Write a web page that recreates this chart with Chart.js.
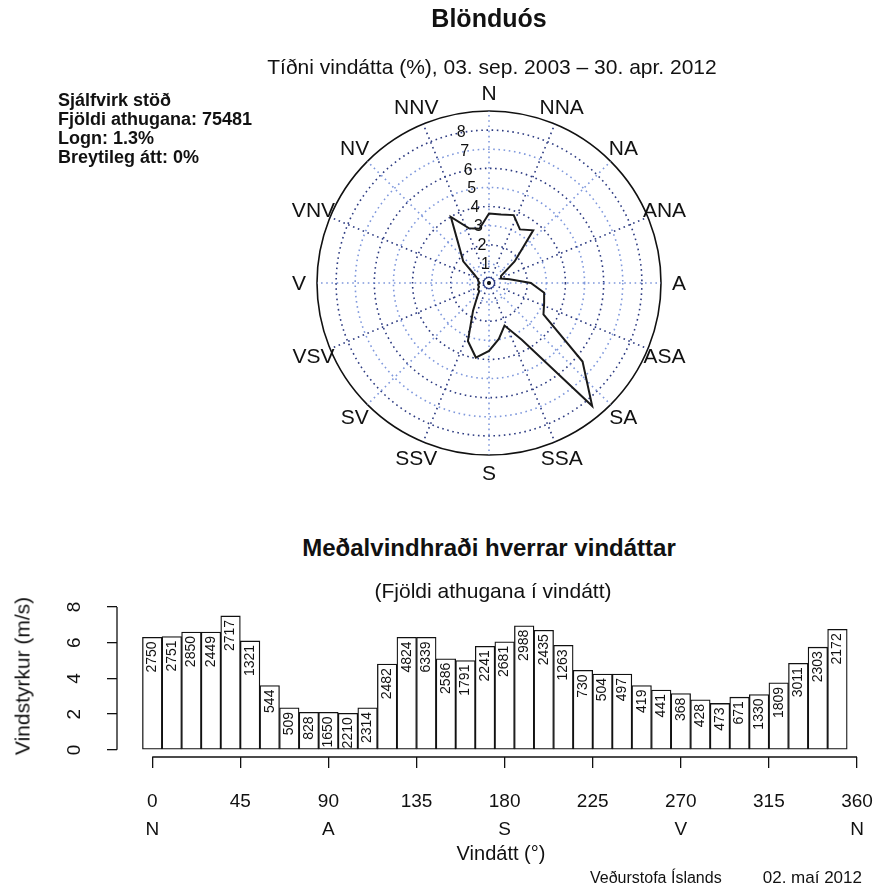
<!DOCTYPE html>
<html lang="is">
<head>
<meta charset="UTF-8">
<title>Blönduós – vindrós</title>
<script src="https://cdn.jsdelivr.net/npm/chart.js"></script>
<style>
  body { margin: 0; background: #fff; font-family: "Liberation Sans", Arial, sans-serif; color: #111; }
  #page { position: relative; width: 878px; height: 888px; overflow: hidden; background: #fff; }
  .txt { position: absolute; white-space: nowrap; line-height: 1; }
  .c { transform: translate(-50%, -50%); }
  #rose { position: absolute; left: 0; top: 0; }
  #bars { position: absolute; left: 0; top: 595px; }
</style>
</head>
<body>
<div id="page">
  <canvas id="rose" width="878" height="500"></canvas>
  <canvas id="bars" width="878" height="250"></canvas>

  <div class="txt c" style="left:489px; top:18px; font-size:25px; font-weight:bold;">Blönduós</div>
  <div class="txt c" style="left:492px; top:66px; font-size:21px;">Tíðni vindátta (%), 03. sep. 2003 – 30. apr. 2012</div>
  <div class="txt" style="left:58px; top:91px; font-size:18px; font-weight:bold; line-height:19px;">
    Sjálfvirk stöð<br>Fjöldi athugana: 75481<br>Logn: 1.3%<br>Breytileg átt: 0%
  </div>

  <div class="txt c" style="left:489px; top:548px; font-size:24px; font-weight:bold;">Meðalvindhraði hverrar vindáttar</div>
  <div class="txt c" style="left:493px; top:590px; font-size:21px;">(Fjöldi athugana í vindátt)</div>
  <div class="txt c" style="left:22px; top:676px; font-size:21px; transform:translate(-50%,-50%) rotate(-90deg);">Vindstyrkur (m/s)</div>
  <div class="txt c" style="left:501px; top:853px; font-size:20px;">Vindátt (°)</div>
  <div class="txt" style="left:590px; top:870px; font-size:16px;">Veðurstofa Íslands</div>
  <div class="txt" style="right:16px; top:869px; font-size:17px;">02. maí 2012</div>
</div>

<script>
  // 36 vindáttir, 10° bil
  const directions = [0, 10, 20, 30, 40, 50, 60, 70, 80, 90, 100, 110, 120, 130, 140, 150, 160, 170,
                      180, 190, 200, 210, 220, 230, 240, 250, 260, 270, 280, 290, 300, 310, 320, 330, 340, 350];
  // fjöldi athugana í hverri vindátt (tölur í súlum)
  const obsCount = [2750, 2751, 2850, 2449, 2717, 1321, 544, 509, 828, 1650, 2210, 2314,
                    2482, 4824, 6339, 2586, 1791, 2241, 2681, 2988, 2435, 1263, 730, 504,
                    497, 419, 441, 368, 428, 473, 671, 1330, 1809, 3011, 2303, 2172];
  // tíðni vindátta (%) – vindrós
  const freqPct = [3.64, 3.64, 3.78, 3.24, 3.60, 1.75, 0.72, 0.67, 1.10, 2.19, 2.93, 3.07,
                   3.29, 6.39, 8.40, 3.43, 2.37, 2.97, 3.55, 3.96, 3.23, 1.67, 0.97, 0.67,
                   0.66, 0.56, 0.58, 0.49, 0.57, 0.63, 0.89, 1.76, 2.40, 3.99, 3.05, 2.88];
  // meðalvindhraði (m/s)
  const meanSpeed = [6.3, 6.35, 6.6, 6.6, 7.5, 6.1, 3.6, 2.35, 2.1, 2.1, 2.05, 2.35,
                     4.8, 6.3, 6.3, 5.1, 5.0, 5.8, 6.05, 6.95, 6.7, 5.85, 4.45, 4.25,
                     4.25, 3.6, 3.35, 3.15, 2.8, 2.6, 2.95, 3.1, 3.75, 4.85, 5.75, 6.75];

  const compassNames = ['N', 'NNA', 'NA', 'ANA', 'A', 'ASA', 'SA', 'SSA',
                        'S', 'SSV', 'SV', 'VSV', 'V', 'VNV', 'NV', 'NNV'];
  const ringLabels = [1, 2, 3, 4, 5, 6, 7, 8];
  const roseMax = 9;
  const xTickValues = [0, 45, 90, 135, 180, 225, 270, 315, 360];
  const xTickLetters = { 0: 'N', 90: 'A', 180: 'S', 270: 'V', 360: 'N' };
  const yTickValues = [0, 2, 4, 6, 8];

  const FONT = '"Liberation Sans", Arial, sans-serif';
  const NAVY = '#2c3a80';
  const LIGHT = '#7f98dc';

  // ---------- vindrós ----------
  const roseDeco = {
    id: 'roseDeco',
    beforeDatasetsDraw(chart) {
      const s = chart.scales.r, ctx = chart.ctx;
      const R = s.drawingArea, cx = s.xCenter, cy = s.yCenter;
      ctx.save();
      ctx.lineWidth = 1.6;
      ctx.setLineDash([1.6, 3.6]);
      compassNames.forEach((name, k) => {
        const a = k * Math.PI / 8;
        ctx.strokeStyle = k % 2 ? NAVY : LIGHT;
        ctx.beginPath();
        ctx.moveTo(cx, cy);
        ctx.lineTo(cx + R * Math.sin(a), cy - R * Math.cos(a));
        ctx.stroke();
      });
      ctx.setLineDash([]);
      // logn
      ctx.strokeStyle = NAVY;
      ctx.lineWidth = 1.2;
      ctx.beginPath(); ctx.arc(cx, cy, 5.5, 0, 2 * Math.PI); ctx.stroke();
      ctx.fillStyle = '#111';
      ctx.beginPath(); ctx.arc(cx, cy, 2, 0, 2 * Math.PI); ctx.fill();

      ctx.textAlign = 'center';
      ctx.textBaseline = 'middle';
      ctx.font = '21px ' + FONT;
      compassNames.forEach((name, k) => {
        const a = k * Math.PI / 8;
        const d = R + 18;
        ctx.fillText(name, cx + d * Math.sin(a), cy - d * Math.cos(a) + 1);
      });
      ctx.font = '16px ' + FONT;
      const la = -10.5 * Math.PI / 180;
      ringLabels.forEach(v => {
        const d = s.getDistanceFromCenterForValue(v);
        ctx.fillText(String(v), cx + d * Math.sin(la), cy - d * Math.cos(la));
      });
      ctx.restore();
    }
  };

  new Chart(document.getElementById('rose'), {
    type: 'radar',
    data: {
      labels: directions.map(String),
      datasets: [{
        data: freqPct,
        borderColor: '#1a1a1a',
        borderWidth: 2,
        fill: false,
        pointRadius: 0,
        tension: 0
      }]
    },
    options: {
      responsive: false,
      animation: false,
      layout: { padding: { left: 317, right: 217, top: 111, bottom: 45 } },
      plugins: { legend: { display: false }, tooltip: { enabled: false } },
      scales: {
        r: {
          min: 0,
          max: roseMax,
          startAngle: 0,
          ticks: { display: false, stepSize: 1 },
          angleLines: { display: false },
          pointLabels: { display: false },
          grid: {
            circular: true,
            color: c => c.tick.value === roseMax ? '#111' : (c.tick.value % 2 ? LIGHT : NAVY),
            lineWidth: 1.6
          },
          border: {
            dash: c => (c.tick && c.tick.value === roseMax) ? [] : [1.6, 3.6]
          }
        }
      }
    },
    plugins: [roseDeco]
  });

  // ---------- súlurit ----------
  const barLabels = {
    id: 'barLabels',
    afterDatasetsDraw(chart) {
      const ctx = chart.ctx;
      const meta = chart.getDatasetMeta(0);
      ctx.save();
      ctx.fillStyle = '#111';
      ctx.font = '14px ' + FONT;
      ctx.textAlign = 'right';
      ctx.textBaseline = 'middle';
      meta.data.forEach((bar, i) => {
        ctx.save();
        ctx.translate(bar.x, bar.y + 4);
        ctx.rotate(-Math.PI / 2);
        ctx.fillText(String(obsCount[i]), 0, 0);
        ctx.restore();
      });
      ctx.restore();
    }
  };

  // ásar í R-stíl: línur aðeins yfir gildissviðið
  const rAxes = {
    id: 'rAxes',
    afterDraw(chart) {
      const { ctx, chartArea, scales: { x, y } } = chart;
      ctx.save();
      ctx.strokeStyle = '#111';
      ctx.lineWidth = 1.3;
      ctx.beginPath();
      ctx.moveTo(x.getPixelForValue(xTickValues[0]), chartArea.bottom);
      ctx.lineTo(x.getPixelForValue(xTickValues[xTickValues.length - 1]), chartArea.bottom);
      ctx.moveTo(chartArea.left, y.getPixelForValue(yTickValues[0]));
      ctx.lineTo(chartArea.left, y.getPixelForValue(yTickValues[yTickValues.length - 1]));
      ctx.stroke();
      ctx.restore();
    }
  };

  new Chart(document.getElementById('bars'), {
    type: 'bar',
    data: {
      datasets: [{
        data: directions.map((d, i) => ({ x: d, y: meanSpeed[i] })),
        backgroundColor: '#fff',
        borderColor: '#111',
        borderWidth: 1.3,
        borderSkipped: false,
        categoryPercentage: 1,
        barPercentage: 1
      }]
    },
    options: {
      responsive: false,
      animation: false,
      layout: { padding: { left: 0, right: 21, top: 12, bottom: 0 } },
      plugins: { legend: { display: false }, tooltip: { enabled: false } },
      scales: {
        x: {
          type: 'linear',
          min: -18,
          max: 360,
          offset: false,
          afterBuildTicks: s => { s.ticks = xTickValues.map(v => ({ value: v })); },
          afterFit: s => { s.height = 88; s.paddingLeft = 0; s.paddingRight = 0; },
          grid: { display: true, offset: false, drawOnChartArea: false, drawTicks: true, tickLength: 11, color: '#111', lineWidth: 1.3 },
          border: { display: false },
          ticks: {
            color: '#111',
            maxRotation: 0,
            autoSkip: false,
            padding: 20,
            font: { family: FONT, size: 19, lineHeight: 1.45 },
            callback: v => [String(v), xTickLetters[v] || '']
          }
        },
        y: {
          min: -0.4,
          max: 8,
          afterBuildTicks: s => { s.ticks = yTickValues.map(v => ({ value: v })); },
          afterFit: s => { s.width = 117; s.paddingTop = 0; s.paddingBottom = 0; },
          grid: { display: true, drawOnChartArea: false, drawTicks: true, tickLength: 10, color: '#111', lineWidth: 1.3 },
          border: { display: false },
          ticks: {
            color: '#111',
            minRotation: 90,
            maxRotation: 90,
            crossAlign: 'center',
            padding: 27,
            font: { family: FONT, size: 19 }
          }
        }
      }
    },
    plugins: [barLabels, rAxes]
  });
</script>
</body>
</html>
